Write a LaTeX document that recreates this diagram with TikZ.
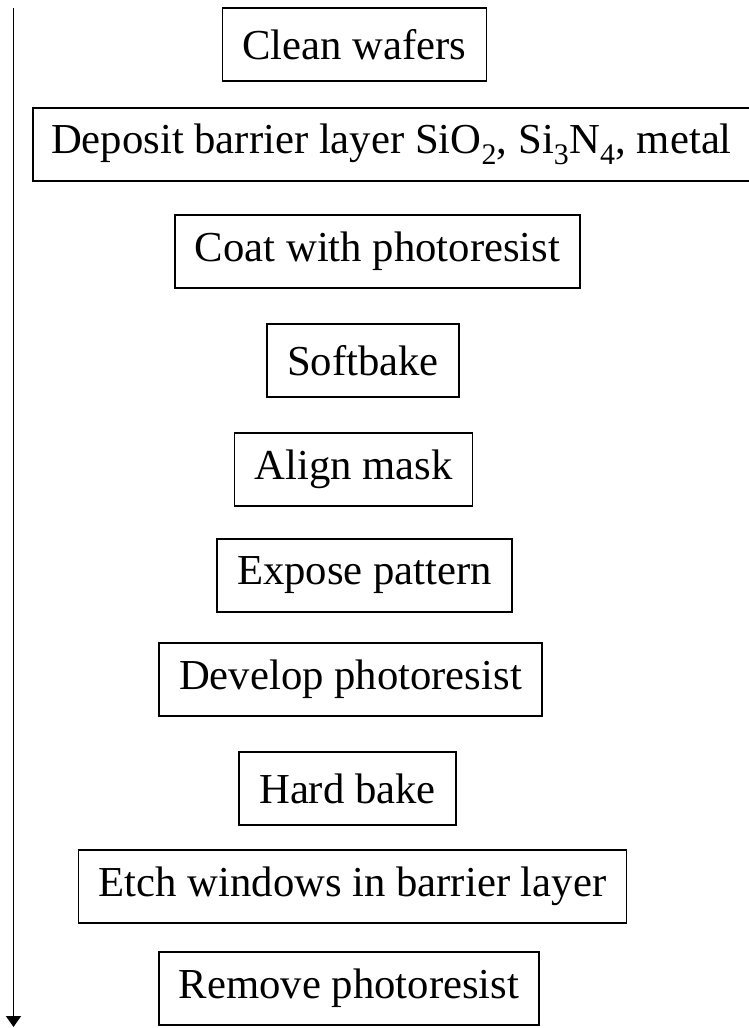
\documentclass[tikz,border=0pt]{standalone}
\usepackage{fontspec}
\setmainfont{Liberation Serif}
\usetikzlibrary{shapes,arrows.meta,positioning}

\begin{document}
\begin{tikzpicture}[node distance=106pt, >={Triangle[length=11pt,width=15pt]}]
    \tikzstyle{block} = [rectangle, draw, line width=1.4pt, inner xsep=20pt, minimum height=73pt, font=\fontsize{42.7pt}{50pt}\selectfont]
    \tikzstyle{line} = [draw, ->, line width=1.4pt]

    \useasboundingbox (0,0) rectangle (749pt,-1028pt);

    \node [block] (clean) at (354.5pt,-44.5pt) {Clean wafers};
    \node [block, below of=clean, xshift=37pt, yshift=6pt, inner xsep=18pt] (deposit) {Deposit barrier layer SiO\textsubscript{2}, Si\textsubscript{3}N\textsubscript{4}, metal};
    \node [block, below of=deposit, xshift=-14pt, yshift=-1pt] (coat) {Coat with photoresist};
    \node [block, below of=coat, xshift=-14.5pt, yshift=-3pt] (softbake) {Softbake};
    \node [block, below of=softbake, xshift=-9.5pt, yshift=-3pt] (align) {Align mask};
    \node [block, below of=align, xshift=11pt] (expose) {Expose pattern};
    \node [block, below of=expose, xshift=-14pt, yshift=2pt] (develop) {Develop photoresist};
    \node [block, below of=develop, xshift=-3pt, yshift=-3pt] (hardbake) {Hard bake};
    \node [block, below of=hardbake, xshift=5pt, yshift=8pt] (etch) {Etch windows in barrier layer};
    \node [block, below of=etch, xshift=-3.5pt, yshift=4pt] (remove) {Remove photoresist};

    % process direction
    \coordinate (start) at (13.5pt,-8pt);
    \coordinate (finish) at (13.5pt,-1027pt);
    \path [line] (start) -- (finish);
\end{tikzpicture}
\end{document}
